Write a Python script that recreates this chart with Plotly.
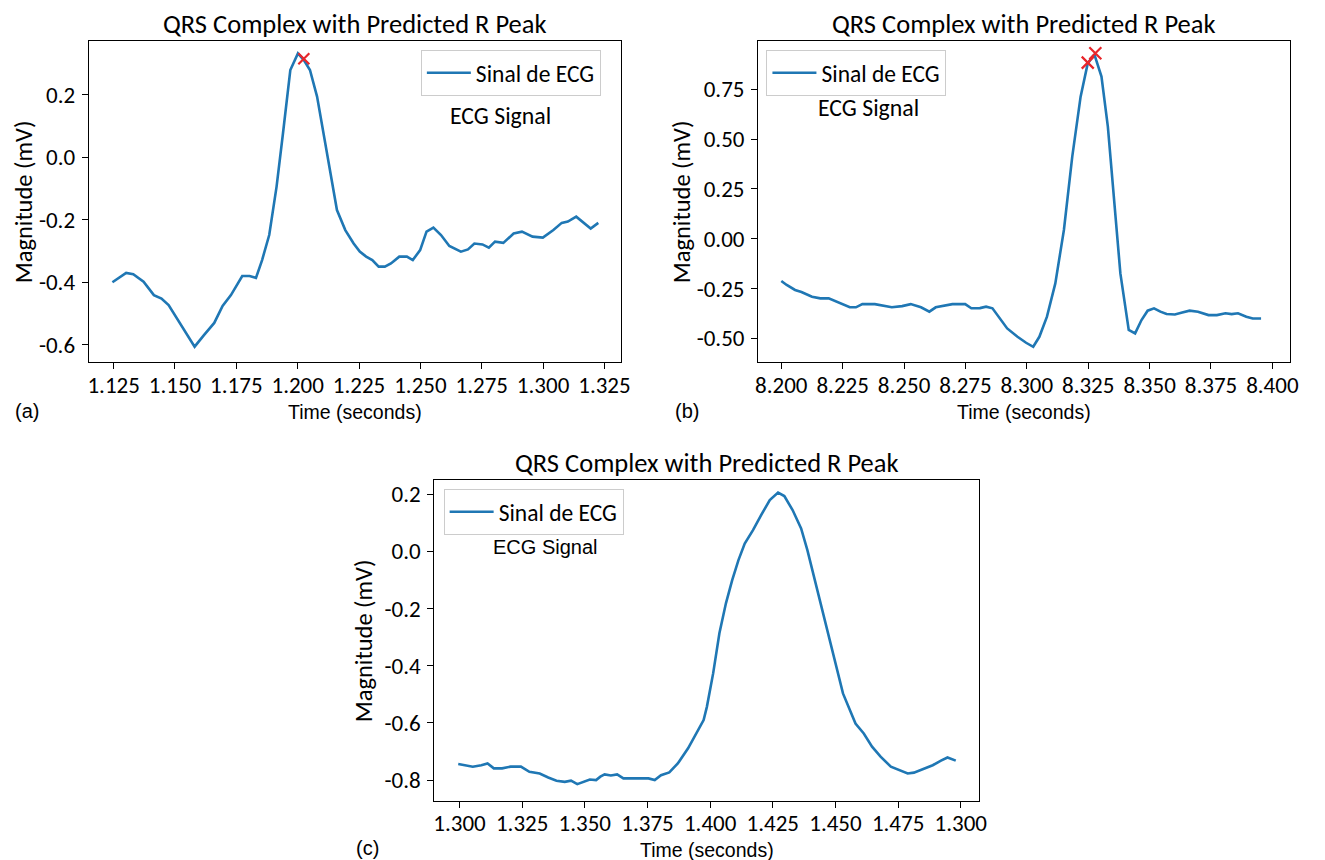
import plotly.graph_objects as go

# ---------------- data ----------------
# Panel (a)
t_a = [1.1245, 1.1301, 1.1330, 1.1372, 1.1414, 1.1445, 1.1474, 1.1533, 1.1580, 1.1618,
       1.1660, 1.1694, 1.1728, 1.1774, 1.1804, 1.1830, 1.1855, 1.1884, 1.1914, 1.1940,
       1.1970, 1.2001, 1.2025, 1.2050, 1.2079, 1.2110, 1.2135, 1.2160, 1.2194, 1.2228,
       1.2253, 1.2279, 1.2304, 1.2330, 1.2355, 1.2380, 1.2414, 1.2445, 1.2469, 1.2499,
       1.2525, 1.2553, 1.2584, 1.2618, 1.2665, 1.2694, 1.2720, 1.2753, 1.2779, 1.2804,
       1.2838, 1.2880, 1.2914, 1.2957, 1.2999, 1.3042, 1.3076, 1.3101, 1.3135, 1.3170,
       1.3194, 1.3225]
v_a = [-0.400, -0.370, -0.374, -0.398, -0.441, -0.452, -0.473, -0.548, -0.606, -0.569,
       -0.530, -0.476, -0.441, -0.380, -0.380, -0.386, -0.329, -0.249, -0.094, 0.076,
       0.279, 0.332, 0.311, 0.279, 0.194, 0.055, -0.062, -0.169, -0.233, -0.276,
       -0.302, -0.318, -0.329, -0.350, -0.350, -0.340, -0.318, -0.318, -0.329, -0.297,
       -0.238, -0.225, -0.249, -0.284, -0.302, -0.295, -0.276, -0.279, -0.289, -0.270,
       -0.274, -0.244, -0.238, -0.254, -0.257, -0.233, -0.210, -0.206, -0.190, -0.212,
       -0.228, -0.210]
peak_t_a = [1.2025]
peak_v_a = [0.315]

# Panel (b)
t_b = [8.2000, 8.2022, 8.2056, 8.2082, 8.2125, 8.2159, 8.2193, 8.2227, 8.2253, 8.2279,
       8.2304, 8.2330, 8.2381, 8.2424, 8.2450, 8.2492, 8.2527, 8.2569, 8.2603, 8.2629,
       8.2672, 8.2697, 8.2749, 8.2774, 8.2809, 8.2834, 8.2860, 8.2885, 8.2920, 8.2962,
       8.2997, 8.3026, 8.3051, 8.3082, 8.3116, 8.3151, 8.3185, 8.3219, 8.3248, 8.3275,
       8.3304, 8.3330, 8.3356, 8.3381, 8.3415, 8.3441, 8.3467, 8.3492, 8.3518, 8.3544,
       8.3569, 8.3603, 8.3629, 8.3663, 8.3697, 8.3740, 8.3774, 8.3809, 8.3834, 8.3860,
       8.3894, 8.3920, 8.3954]
v_b = [-0.212, -0.232, -0.257, -0.267, -0.291, -0.299, -0.299, -0.316, -0.333, -0.344,
       -0.344, -0.328, -0.328, -0.338, -0.344, -0.338, -0.328, -0.344, -0.366, -0.344,
       -0.336, -0.328, -0.328, -0.349, -0.348, -0.341, -0.349, -0.391, -0.450, -0.492,
       -0.522, -0.542, -0.492, -0.391, -0.224, 0.044, 0.412, 0.713, 0.880, 0.925,
       0.814, 0.563, 0.194, -0.174, -0.458, -0.475, -0.408, -0.361, -0.349, -0.366,
       -0.378, -0.380, -0.371, -0.361, -0.366, -0.383, -0.383, -0.374, -0.378, -0.374,
       -0.391, -0.400, -0.400]
peak_t_b = [8.3248, 8.3279]
peak_v_b = [0.884, 0.931]

# Panel (c)
t_c = [1.2995, 1.3020, 1.3053, 1.3087, 1.3112, 1.3137, 1.3170, 1.3204, 1.3245, 1.3279,
       1.3320, 1.3354, 1.3387, 1.3420, 1.3445, 1.3470, 1.3495, 1.3520, 1.3545, 1.3562,
       1.3579, 1.3604, 1.3629, 1.3654, 1.3687, 1.3721, 1.3754, 1.3779, 1.3804, 1.3837,
       1.3871, 1.3912, 1.3946, 1.3974, 1.3987, 1.4012, 1.4037, 1.4063, 1.4088, 1.4113,
       1.4138, 1.4171, 1.4204, 1.4238, 1.4271, 1.4296, 1.4329, 1.4363, 1.4388, 1.4421,
       1.4455, 1.4496, 1.4530, 1.4580, 1.4613, 1.4646, 1.4680, 1.4721, 1.4755, 1.4788,
       1.4813, 1.4846, 1.4888, 1.4921, 1.4947, 1.4980]
v_c = [-0.744, -0.749, -0.753, -0.748, -0.742, -0.759, -0.759, -0.753, -0.753, -0.771,
       -0.777, -0.791, -0.802, -0.806, -0.802, -0.814, -0.806, -0.798, -0.800, -0.788,
       -0.780, -0.784, -0.780, -0.794, -0.794, -0.794, -0.794, -0.800, -0.783, -0.773,
       -0.742, -0.689, -0.637, -0.590, -0.544, -0.427, -0.287, -0.182, -0.101, -0.031,
       0.027, 0.074, 0.127, 0.179, 0.205, 0.193, 0.144, 0.080, 0.004, -0.112,
       -0.229, -0.380, -0.497, -0.602, -0.637, -0.683, -0.718, -0.753, -0.765, -0.777,
       -0.774, -0.763, -0.748, -0.732, -0.721, -0.732]

# tick labels
xt_a = [1.125, 1.150, 1.175, 1.200, 1.225, 1.250, 1.275, 1.300, 1.325]
xl_a = ["1.125", "1.150", "1.175", "1.200", "1.225", "1.250", "1.275", "1.300", "1.325"]
yt_a = [0.2, 0.0, -0.2, -0.4, -0.6]
yl_a = ["0.2", "0.0", "-0.2", "-0.4", "-0.6"]
xt_b = [8.200, 8.225, 8.250, 8.275, 8.300, 8.325, 8.350, 8.375, 8.400]
xl_b = ["8.200", "8.225", "8.250", "8.275", "8.300", "8.325", "8.350", "8.375", "8.400"]
yt_b = [0.75, 0.50, 0.25, 0.00, -0.25, -0.50]
yl_b = ["0.75", "0.50", "0.25", "0.00", "-0.25", "-0.50"]
xt_c = [1.300, 1.325, 1.350, 1.375, 1.400, 1.425, 1.450, 1.475, 1.500]
xl_c = ["1.300", "1.325", "1.350", "1.375", "1.400", "1.425", "1.450", "1.475", "1.300"]
yt_c = [0.2, 0.0, -0.2, -0.4, -0.6, -0.8]
yl_c = ["0.2", "0.0", "-0.2", "-0.4", "-0.6", "-0.8"]

title_text = "QRS Complex with Predicted R Peak"
legend_name = "Sinal de ECG"

# ---------------- styling ----------------
W, H = 1325, 860
BLUE = "#1f77b4"
RED = "#e8262b"
CAL = "Calibri, Carlito, Lato, sans-serif"
ARIAL = "Arial, Liberation Sans, sans-serif"
TICK_SIZE = 23


def px(x):
    return x / W


def py(y):
    return 1 - y / H


# plot rectangles in pixels (left, right, top, bottom)
rects = {
    "a": (86.7, 624.0, 40.7, 362.3),
    "b": (762.7, 1299.3, 40.7, 362.3),
    "c": (435.7, 986.0, 480.0, 800.7),
}

fig = go.Figure()

fig.add_trace(go.Scatter(x=t_a, y=v_a, mode="lines", name=legend_name,
                         line=dict(color=BLUE, width=2.6), xaxis="x", yaxis="y",
                         legend="legend"))
fig.add_trace(go.Scatter(x=peak_t_a, y=peak_v_a, mode="markers", showlegend=False,
                         marker=dict(symbol="x-thin", size=11, line=dict(color=RED, width=2.2)),
                         xaxis="x", yaxis="y"))
fig.add_trace(go.Scatter(x=t_b, y=v_b, mode="lines", name=legend_name,
                         line=dict(color=BLUE, width=2.6), xaxis="x2", yaxis="y2",
                         legend="legend2"))
fig.add_trace(go.Scatter(x=peak_t_b, y=peak_v_b, mode="markers", showlegend=False,
                         marker=dict(symbol="x-thin", size=12, line=dict(color=RED, width=2.2)),
                         xaxis="x2", yaxis="y2"))
fig.add_trace(go.Scatter(x=t_c, y=v_c, mode="lines", name=legend_name,
                         line=dict(color=BLUE, width=2.6), xaxis="x3", yaxis="y3",
                         legend="legend3"))


def axis_common():
    return dict(showline=True, linecolor="black", linewidth=1.3, mirror=True,
                ticks="outside", ticklen=6, tickwidth=1.3, tickcolor="black",
                showgrid=False, zeroline=False,
                tickfont=dict(family=CAL, size=TICK_SIZE, color="black"))


ranges = {
    "a": ([1.1149, 1.3317], [-0.656, 0.3728]),
    "b": ([8.1906, 8.4070], [-0.620, 0.994]),
    "c": ([1.2900, 1.5074], [-0.872, 0.249]),
}
ticks = {
    "a": (xt_a, xl_a, yt_a, yl_a),
    "b": (xt_b, xl_b, yt_b, yl_b),
    "c": (xt_c, xl_c, yt_c, yl_c),
}
axnames = {"a": ("xaxis", "yaxis", "y", "x"), "b": ("xaxis2", "yaxis2", "y2", "x2"),
           "c": ("xaxis3", "yaxis3", "y3", "x3")}

layout_updates = {}
for k in ["a", "b", "c"]:
    l, r, t, b = rects[k]
    xa, ya, yanchor, xanchor = axnames[k]
    xtv, xtl, ytv, ytl = ticks[k]
    xd = axis_common()
    xd.update(domain=[px(l), px(r)], range=ranges[k][0], anchor=yanchor,
              tickmode="array", tickvals=xtv, ticktext=xtl, ticklabelstandoff=-4)
    yd = axis_common()
    yd.update(domain=[py(b), py(t)], range=ranges[k][1], anchor=xanchor,
              tickmode="array", tickvals=ytv, ticktext=ytl, ticklabelstandoff=2)
    layout_updates[xa] = xd
    layout_updates[ya] = yd

fig.update_layout(**layout_updates)

annotations = []
# titles
for k, ty in [("a", 24), ("b", 24), ("c", 463)]:
    l, r, t, b = rects[k]
    annotations.append(dict(text=title_text, x=px((l + r) / 2), y=py(ty), xref="paper", yref="paper",
                            xanchor="center", yanchor="middle", showarrow=False,
                            font=dict(family=CAL, size=26.5, color="black")))
# y-axis titles
for k, xc in [("a", 21), ("b", 685.5), ("c", 364.5)]:
    l, r, t, b = rects[k]
    annotations.append(dict(text="Magnitude (mV)", x=px(xc), y=py((t + b) / 2), xref="paper",
                            yref="paper", xanchor="center", yanchor="middle", showarrow=False,
                            textangle=-90, font=dict(family=CAL, size=24.5, color="black")))
# x-axis titles
for k, yc in [("a", 412), ("b", 412), ("c", 850)]:
    l, r, t, b = rects[k]
    annotations.append(dict(text="Time (seconds)", x=px((l + r) / 2), y=py(yc), xref="paper",
                            yref="paper", xanchor="center", yanchor="middle", showarrow=False,
                            font=dict(family=ARIAL, size=19.5, color="black")))
# panel letters
for lab, xl, yc in [("(a)", 9.6, 411), ("(b)", 677, 411), ("(c)", 354, 848)]:
    annotations.append(dict(text=lab, x=px(xl), y=py(yc), xref="paper", yref="paper",
                            xanchor="left", yanchor="middle", showarrow=False,
                            font=dict(family=ARIAL, size=20, color="black")))
# "ECG Signal" labels
annotations.append(dict(text="ECG Signal", x=px(449.7), y=py(115), xref="paper", yref="paper",
                        xanchor="left", yanchor="middle", showarrow=False,
                        font=dict(family=CAL, size=23.8, color="black")))
annotations.append(dict(text="ECG Signal", x=px(821), y=py(107), xref="paper", yref="paper",
                        xanchor="left", yanchor="middle", showarrow=False,
                        font=dict(family=CAL, size=23.8, color="black")))
annotations.append(dict(text="ECG Signal", x=px(493), y=py(547), xref="paper", yref="paper",
                        xanchor="left", yanchor="middle", showarrow=False,
                        font=dict(family=ARIAL, size=20, color="black")))

legend_style = dict(bgcolor="rgba(255,255,255,0.8)", bordercolor="#cccccc", borderwidth=1,
                    font=dict(family=CAL, size=23.5, color="black"), xanchor="left",
                    yanchor="top", itemwidth=44, tracegroupgap=0)
fig.update_layout(
    width=W, height=H,
    margin=dict(l=0, r=0, t=0, b=0),
    paper_bgcolor="white", plot_bgcolor="white",
    showlegend=True,
    legend=dict(x=px(422), y=py(50), **legend_style),
    legend2=dict(x=px(771), y=py(50), **legend_style),
    legend3=dict(x=px(445), y=py(489), **legend_style),
    annotations=annotations,
)

fig.write_html("out.html", config={"displayModeBar": False},
               post_script="document.body.style.margin='0px';document.body.style.padding='0px';")
